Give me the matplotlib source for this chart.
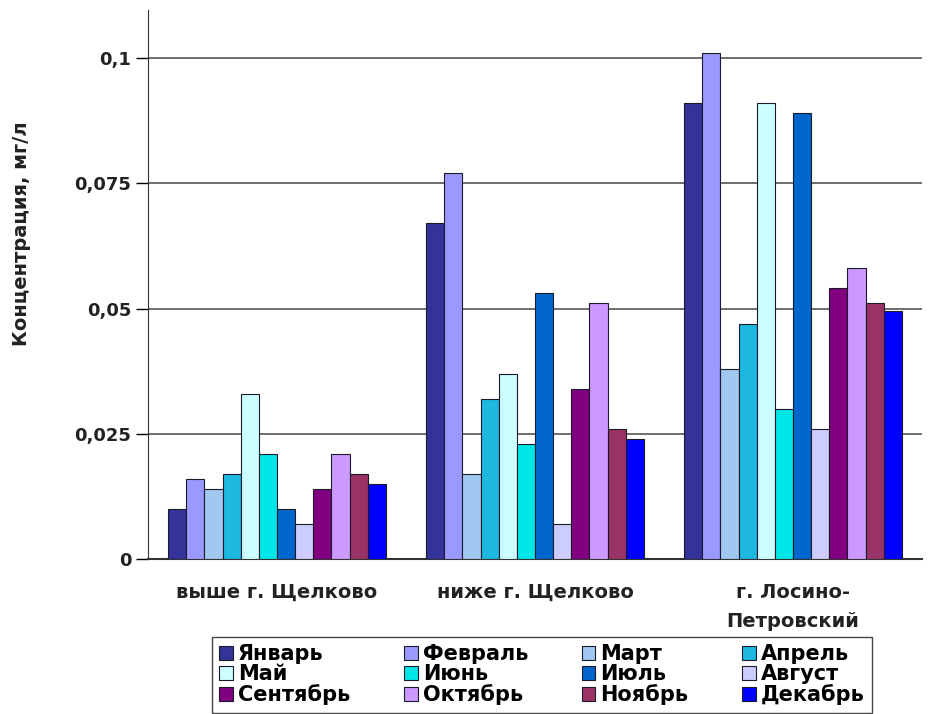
import matplotlib
matplotlib.use("Agg")
import matplotlib.pyplot as plt
import numpy as np
from matplotlib.ticker import FixedLocator

plt.rcParams['font.family'] = ['DejaVu Sans']

categories = ["выше г. Щелково", "ниже г. Щелково", "г. Лосино-\nПетровский"]
months = ["Январь", "Февраль", "Март", "Апрель", "Май", "Июнь",
          "Июль", "Август", "Сентябрь", "Октябрь", "Ноябрь", "Декабрь"]
colors = ["#333399", "#9999FF", "#A0C8F0", "#1CB8E0", "#CCFFFF", "#00E5E5",
          "#0066CC", "#CCCCFF", "#800080", "#CC99FF", "#993366", "#0000FF"]

jan = [0.010, 0.067, 0.091]
feb = [0.016, 0.077, 0.101]
mar = [0.014, 0.017, 0.038]
apr = [0.017, 0.032, 0.047]
may = [0.033, 0.037, 0.091]
jun = [0.021, 0.023, 0.030]
jul = [0.010, 0.053, 0.089]
aug = [0.007, 0.007, 0.026]
sep = [0.014, 0.034, 0.054]
oct_ = [0.021, 0.051, 0.058]
nov = [0.017, 0.026, 0.051]
dec = [0.015, 0.024, 0.0495]
series = [jan, feb, mar, apr, may, jun, jul, aug, sep, oct_, nov, dec]

yticks = [0, 0.025, 0.05, 0.075, 0.1]
ytick_labels = ["0", "0,025", "0,05", "0,075", "0,1"]

fig = plt.figure(figsize=(9.32, 7.14), dpi=100)
ax = fig.add_axes([0.1588, 0.2171, 0.8305, 0.769])

x = np.arange(len(categories))
bw = 0.0703
handles = []
for i, (vals, c) in enumerate(zip(series, colors)):
    offs = (i - 5.5) * bw
    b = ax.bar(x + offs, vals, width=bw, color=c, edgecolor="#1a1a2a",
               linewidth=0.8, zorder=3, label=months[i])
    handles.append(b)

ax.set_xlim(-0.5, 2.5)
ax.set_ylim(0, 0.1096)
ax.yaxis.set_major_locator(FixedLocator(yticks))
ax.set_yticklabels(ytick_labels, fontsize=13, fontweight="bold", color="#222222")
ax.set_xticks(x)
ax.set_xticklabels(categories, fontsize=14, fontweight="bold", linespacing=1.7,
                   color="#222222")
ax.tick_params(axis="x", length=0, pad=17)
ax.tick_params(axis="y", length=9, width=1, direction="out", pad=3)
ax.grid(axis="y", color="#555555", linewidth=1.2, zorder=0)
for s in ["top", "right"]:
    ax.spines[s].set_visible(False)
ax.spines["left"].set_color("#333333")
ax.spines["bottom"].set_color("#333333")
ax.spines["bottom"].set_linewidth(1.5)
ax.set_ylabel("Концентрация, мг/л", fontsize=14, fontweight="bold", color="#222222")
ax.yaxis.set_label_coords(-0.151, 0.592)

order = [0, 4, 8, 1, 5, 9, 2, 6, 10, 3, 7, 11]
leg = fig.legend([handles[k] for k in order], [months[k] for k in order],
                 ncol=4, loc="upper left",
                 bbox_to_anchor=(212 / 932, 0.0, (872 - 212) / 932, 1 - 637 / 714),
                 mode="expand", frameon=True, fancybox=False, edgecolor="#444444",
                 framealpha=1.0,
                 prop={"size": 15, "weight": "bold"}, handlelength=0.65, handleheight=0.65,
                 handletextpad=0.25, labelspacing=0.0, borderpad=0.35, columnspacing=0.8,
                 borderaxespad=0)
leg.get_frame().set_linewidth(1.0)

fig.savefig("out.png", dpi=100)
